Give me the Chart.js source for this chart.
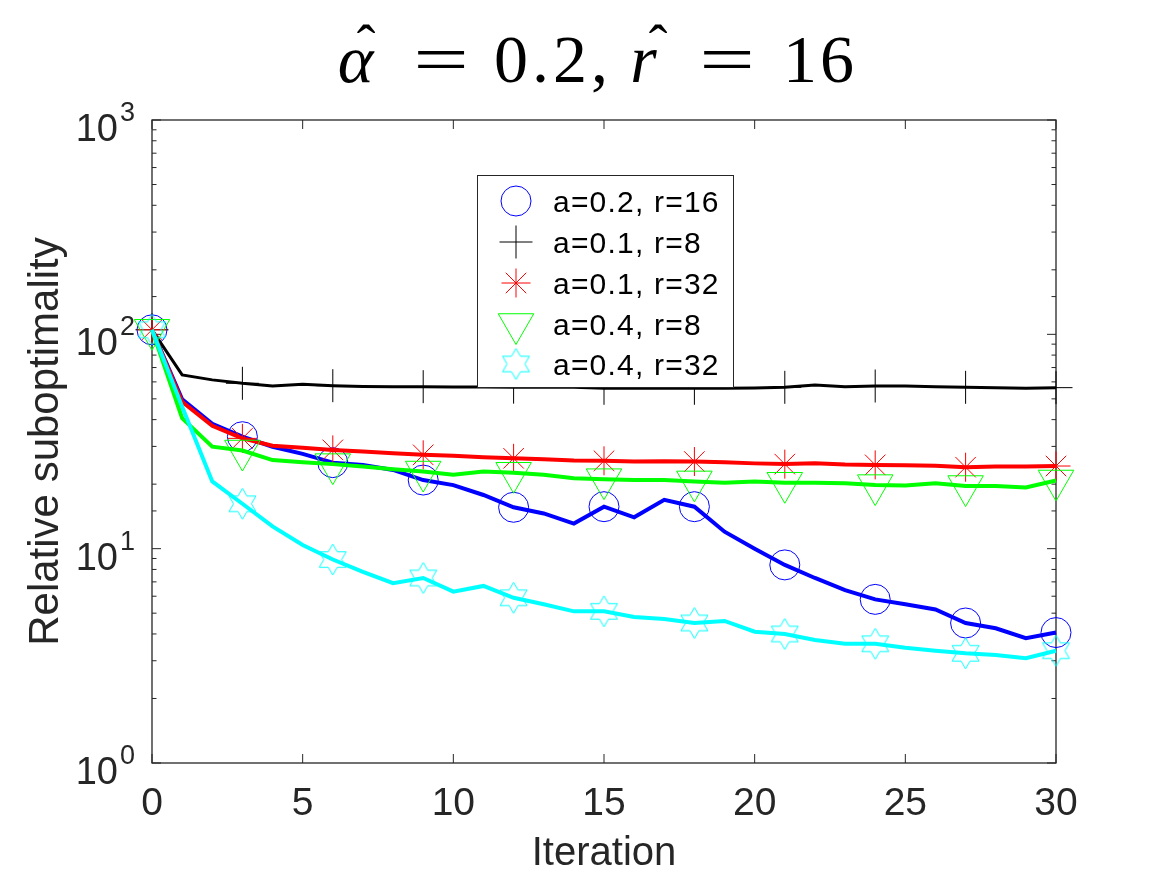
<!DOCTYPE html>
<html><head><meta charset="utf-8">
<script src="https://cdn.jsdelivr.net/npm/chart.js@4.4.0/dist/chart.umd.min.js"></script>
<style>html,body{margin:0;padding:0;background:#fff;overflow:hidden}canvas{display:block}</style>
</head><body>
<canvas id="c" width="1167" height="875"></canvas>
<script>
// ---------- data ----------
const iterations = [0,1,2,3,4,5,6,7,8,9,10,11,12,13,14,15,16,17,18,19,20,21,22,23,24,25,26,27,28,29,30];
const seriesLabels = ['a=0.2, r=16', 'a=0.1, r=8', 'a=0.1, r=32', 'a=0.4, r=8', 'a=0.4, r=32'];
const blueValues  = [105,49.8,38.2,33.3,29.9,27.7,25.2,24.6,23.3,20.9,19.8,17.8,15.6,14.6,13.1,15.7,14.0,16.9,15.7,12.0,10.0,8.4,7.3,6.4,5.8,5.5,5.2,4.5,4.25,3.82,4.06];
const blackValues = [105,64.7,61.3,59.1,57.4,58.5,57.6,57.1,57.0,57.0,56.8,56.8,56.7,56.6,56.6,56.0,56.0,56.0,56.0,56.0,56.2,56.6,58.0,57.0,57.4,57.4,57.0,56.6,56.3,56.0,56.4];
const redValues   = [105,48.5,37.4,32.7,30.2,29.6,28.9,28.4,27.9,27.4,27.1,26.7,26.4,26.1,25.8,25.7,25.5,25.6,25.5,25.3,25.0,24.8,25.0,24.7,24.6,24.5,24.4,24.0,24.2,24.2,24.3];
const greenValues = [105,40.6,29.9,28.7,25.9,25.3,24.8,24.2,23.5,22.9,22.1,22.9,22.6,22.1,21.3,21.1,20.9,20.9,20.6,20.3,20.6,20.3,20.3,20.2,19.8,19.7,20.2,19.6,19.6,19.3,20.8];
const cyanValues  = [105,46.0,20.6,16.2,12.7,10.4,8.9,7.8,6.9,7.3,6.3,6.7,5.9,5.5,5.1,5.1,4.8,4.7,4.5,4.6,4.1,4.0,3.75,3.6,3.6,3.45,3.34,3.25,3.19,3.08,3.34];
const xTickValues = [0,5,10,15,20,25,30];
const yTickExponents = [0,1,2,3];
const xAxisTitle = 'Iteration';
const yAxisTitle = 'Relative suboptimality';
// title: α̂ = 0.2, r̂ = 16  (text, italic, has hat)
const titleParts = [['α', true, true], ['=', false, false], ['0.2,', false, false], ['r', true, true], ['=', false, false], ['16', false, false]];

// ---------- styles ----------
const AX = '#262626';
function hexagram(color, R) {
  const s = Math.ceil(2 * R + 4);
  const c = document.createElement('canvas'); c.width = s; c.height = s;
  const g = c.getContext('2d');
  g.strokeStyle = color; g.lineWidth = 1;
  const cx = s / 2, cy = s / 2, r = R / Math.sqrt(3);
  g.beginPath();
  for (let k = 0; k < 12; k++) {
    const ang = -Math.PI / 2 + k * Math.PI / 6;
    const rr = k % 2 === 0 ? R : r;
    g.lineTo(cx + rr * Math.cos(ang), cy + rr * Math.sin(ang));
  }
  g.closePath(); g.stroke();
  return c;
}
const hexCyan = hexagram('#00ffff', 15.5);

const markerSpecs = [
  {color:'#0000ff', width:4, style:'circle',   radius:15,   rot:0,   order:5},
  {color:'#000000', width:3, style:'cross',    radius:16.5, rot:0,   order:4},
  {color:'#ff0000', width:4, style:'star',     radius:14.5, rot:0,   order:3},
  {color:'#00ff00', width:4, style:'triangle', radius:20.5, rot:180, order:2},
  {color:'#00ffff', width:4, style:hexCyan,    radius:15.5, rot:0,   order:1}
];
const allValues = [blueValues, blackValues, redValues, greenValues, cyanValues];

const datasets = allValues.map((vals, i) => {
  const m = markerSpecs[i];
  return {
    label: seriesLabels[i],
    data: iterations.map((x, j) => ({x: x, y: vals[j]})),
    borderColor: m.color, borderWidth: m.width, tension: 0, fill: false,
    pointStyle: m.style, pointRotation: m.rot,
    pointRadius: ctx => (ctx.dataIndex % 3 === 0 ? m.radius : 0),
    pointHoverRadius: 0,
    pointBorderColor: m.color, pointBackgroundColor: 'rgba(0,0,0,0)', pointBorderWidth: 1,
    clip: false, order: m.order
  };
});

function line(ctx, x1, y1, x2, y2) { ctx.beginPath(); ctx.moveTo(x1, y1); ctx.lineTo(x2, y2); ctx.stroke(); }

function drawLegendMarker(ctx, i, x, y) {
  const m = markerSpecs[i];
  ctx.save();
  ctx.strokeStyle = m.color; ctx.lineWidth = 1;
  if (m.style === 'circle') { ctx.beginPath(); ctx.arc(x, y, m.radius, 0, Math.PI * 2); ctx.stroke(); }
  else if (m.style === 'cross') { line(ctx, x - m.radius, y, x + m.radius, y); line(ctx, x, y - m.radius, x, y + m.radius); }
  else if (m.style === 'star') {
    const r = m.radius, d = r * Math.SQRT1_2;
    line(ctx, x - r, y, x + r, y); line(ctx, x, y - r, x, y + r);
    line(ctx, x - d, y - d, x + d, y + d); line(ctx, x - d, y + d, x + d, y - d);
  } else if (m.style === 'triangle') {
    const r = m.radius;
    ctx.beginPath();
    for (let k = 0; k < 3; k++) { const a = Math.PI + k * 2 * Math.PI / 3; ctx.lineTo(x + Math.sin(a) * r, y - Math.cos(a) * r); }
    ctx.closePath(); ctx.stroke();
  } else { ctx.drawImage(m.style, x - m.style.width / 2, y - m.style.height / 2); }
  ctx.restore();
}

const matlabAxes = {
  id: 'matlabAxes',
  beforeDatasetsDraw(chart) {
    const {ctx, chartArea: a, scales: {x, y}} = chart;
    ctx.save();
    ctx.strokeStyle = AX; ctx.lineWidth = 1;
    xTickValues.forEach(v => {
      const px = x.getPixelForValue(v);
      line(ctx, px, a.bottom, px, a.bottom - 9); line(ctx, px, a.top, px, a.top + 9);
    });
    y.ticks.forEach(t => {
      const lg = Math.log10(t.value);
      const major = Math.abs(lg - Math.round(lg)) < 1e-6;
      const L = major ? 9 : 4.5;
      const py = y.getPixelForValue(t.value);
      line(ctx, a.left, py, a.left + L, py); line(ctx, a.right, py, a.right - L, py);
    });
    ctx.lineWidth = 1.3;
    ctx.strokeRect(a.left, a.top, a.right - a.left, a.bottom - a.top);
    ctx.restore();
  },
  afterDraw(chart) {
    const {ctx, chartArea: a, scales: {x, y}} = chart;
    ctx.save();
    ctx.fillStyle = AX;
    // x tick labels
    ctx.font = '39px "Liberation Sans", Arial, sans-serif';
    ctx.textAlign = 'center'; ctx.textBaseline = 'alphabetic';
    xTickValues.forEach(v => ctx.fillText(String(v), x.getPixelForValue(v), a.bottom + 52));
    // y tick labels 10^k
    yTickExponents.forEach(e => {
      const py = y.getPixelForValue(Math.pow(10, e));
      ctx.font = '38px "Liberation Sans", Arial, sans-serif';
      ctx.textAlign = 'right';
      ctx.fillText('10', a.left - 34, py + 21);
      ctx.font = '27px "Liberation Sans", Arial, sans-serif';
      ctx.textAlign = 'left';
      ctx.fillText(String(e), a.left - 32, py + 1);
    });
    // axis titles
    ctx.font = '40px "Liberation Sans", Arial, sans-serif';
    ctx.textAlign = 'center';
    ctx.fillText(xAxisTitle, (a.left + a.right) / 2, 865);
    ctx.save();
    ctx.translate(58, (a.top + a.bottom) / 2);
    ctx.rotate(-Math.PI / 2);
    ctx.font = '42px "Liberation Sans", Arial, sans-serif';
    ctx.fillText(yAxisTitle, 0, 0);
    ctx.restore();
    // title (serif, math style)
    ctx.fillStyle = '#000';
    const centers = [357, 441, 553, 645, 727, 820];
    const hatX = [366, 0, 0, 658, 0, 0];
    const fam = '"Liberation Serif", "DejaVu Serif", serif';
    titleParts.forEach((p, i) => {
      ctx.save();
      ctx.font = (p[1] ? 'italic ' : '') + '68px ' + fam;
      ctx.textAlign = 'center';
      if (p[0] === '=') {
        ctx.translate(centers[i], 0); ctx.scale(1.45, 1);
        ctx.fillText(p[0], 0, 82);
      } else {
        try { ctx.letterSpacing = p[0].length > 2 ? '4px' : '3px'; } catch (e) {}
        ctx.fillText(p[0], centers[i], 82);
      }
      ctx.restore();
      if (p[2]) {
        ctx.save();
        ctx.font = '56px ' + fam;
        ctx.textAlign = 'center';
        const hm = ctx.measureText('ˆ');
        ctx.fillText('ˆ', hatX[i], 24 + hm.actualBoundingBoxAscent);
        ctx.restore();
      }
    });
    // legend
    const L = {l: 477, t: 175, r: 733, b: 387};
    ctx.fillStyle = '#fff';
    ctx.fillRect(L.l, L.t, L.r - L.l, L.b - L.t);
    ctx.strokeStyle = AX; ctx.lineWidth = 1;
    ctx.strokeRect(L.l + 0.5, L.t + 0.5, L.r - L.l, L.b - L.t);
    const rows = [201, 242, 283, 324, 364];
    ctx.fillStyle = '#000';
    ctx.font = '30px "Liberation Sans", Arial, sans-serif';
    ctx.textAlign = 'left';
    try { ctx.letterSpacing = '1.2px'; } catch (e) {}
    seriesLabels.forEach((lab, i) => {
      drawLegendMarker(ctx, i, 516, rows[i]);
      ctx.fillText(lab, 553, rows[i] + 10.5);
    });
    ctx.restore();
  }
};

new Chart(document.getElementById('c'), {
  type: 'line',
  data: {datasets: datasets},
  options: {
    responsive: false, animation: false, events: [],
    layout: {padding: {top: 120, right: 111, left: 0, bottom: 0}},
    scales: {
      x: {type: 'linear', min: 0, max: 30, ticks: {display: false, stepSize: 5},
          grid: {display: false}, border: {display: false},
          afterFit: s => { s.height = 112; }},
      y: {type: 'logarithmic', min: 1, max: 1000, ticks: {display: false},
          grid: {display: false}, border: {display: false},
          afterFit: s => { s.width = 152; }}
    },
    plugins: {legend: {display: false}, tooltip: {enabled: false}, title: {display: false}}
  },
  plugins: [matlabAxes]
});
</script>
</body></html>
